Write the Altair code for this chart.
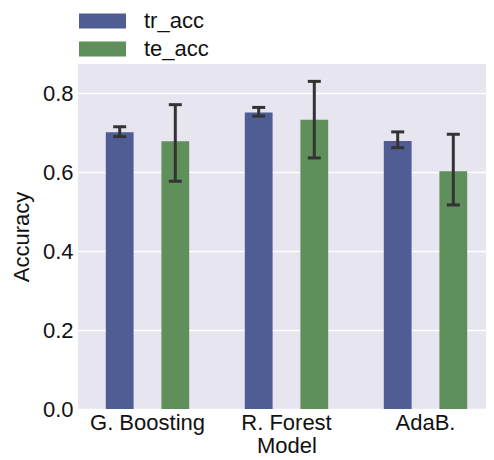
import altair as alt
import pandas as pd

models = ["G. Boosting", "R. Forest", "AdaB."]
series = ["tr_acc", "te_acc"]
tr_acc = [0.701, 0.751, 0.679]
te_acc = [0.678, 0.733, 0.602]
tr_lo = [0.690, 0.742, 0.662]
tr_hi = [0.715, 0.764, 0.702]
te_lo = [0.577, 0.636, 0.517]
te_hi = [0.771, 0.830, 0.696]

rows = []
for i, m in enumerate(models):
    rows.append({"model": m, "series": "tr_acc", "value": tr_acc[i], "lo": tr_lo[i], "hi": tr_hi[i]})
    rows.append({"model": m, "series": "te_acc", "value": te_acc[i], "lo": te_lo[i], "hi": te_hi[i]})
df = pd.DataFrame(rows)

FONT = "Liberation Sans"
ERR = "#333333"

x_enc = alt.X(
    "model:N",
    sort=models,
    scale=alt.Scale(paddingInner=0, paddingOuter=0, range=[0, 417]),
    axis=alt.Axis(
        title="Model", labelAngle=0, ticks=False, domain=False,
        labelFontSize=22, titleFontSize=22, labelPadding=3, titlePadding=2,
        labelColor="#111111", titleColor="#111111", labelFont=FONT, titleFont=FONT,
        titleFontWeight="normal", grid=False, titleX=208.5,
    ),
)
xoff_enc = alt.XOffset("series:N", sort=series, scale=alt.Scale(paddingInner=0.5, paddingOuter=0.5))
y_scale = alt.Scale(domain=[0, 0.874], nice=False, zero=True)

base = alt.Chart(df).encode(x=x_enc, xOffset=xoff_enc)

bars = base.mark_bar().encode(
    y=alt.Y(
        "value:Q",
        scale=y_scale,
        axis=alt.Axis(
            title="Accuracy", values=[0.0, 0.2, 0.4, 0.6, 0.8], format=".1f",
            ticks=False, domain=False, grid=True, gridColor="white", gridWidth=1.5,
            labelFontSize=22, titleFontSize=22, labelPadding=5, titlePadding=9,
            labelColor="#111111", titleColor="#111111", labelFont=FONT, titleFont=FONT,
            titleFontWeight="normal",
        ),
    ),
    color=alt.Color(
        "series:N",
        scale=alt.Scale(domain=series, range=["#4F5D94", "#5F8F5B"]),
        legend=alt.Legend(
            title=None, orient="none", legendX=9.5, legendY=-58, padding=0,
            symbolType="M-1.567,-0.5L1.567,-0.5L1.567,0.5L-1.567,0.5Z",
            symbolSize=900, symbolStrokeWidth=0, symbolOpacity=1,
            labelFontSize=22, labelFont=FONT, labelColor="#111111",
            labelOffset=26.5, rowPadding=2,
        ),
    ),
)

rules = base.mark_rule(color=ERR, strokeWidth=3).encode(
    y=alt.Y("lo:Q", scale=y_scale), y2="hi:Q"
)
cap_lo = base.mark_tick(color=ERR, thickness=3, size=13, opacity=1).encode(
    y=alt.Y("lo:Q", scale=y_scale)
)
cap_hi = base.mark_tick(color=ERR, thickness=3, size=13, opacity=1).encode(
    y=alt.Y("hi:Q", scale=y_scale)
)

chart = (
    alt.layer(bars, rules, cap_lo, cap_hi)
    .properties(
        width=408, height=345,
        autosize=alt.AutoSizeParams(type="none"),
        padding={"left": 70, "top": 56, "right": 0, "bottom": 51},
        view=alt.ViewBackground(fill="#E6E5F0", strokeWidth=0),
    )
    .configure(background="white")
)

chart.save("out.html", embed_options={"renderer": "svg", "actions": False})
